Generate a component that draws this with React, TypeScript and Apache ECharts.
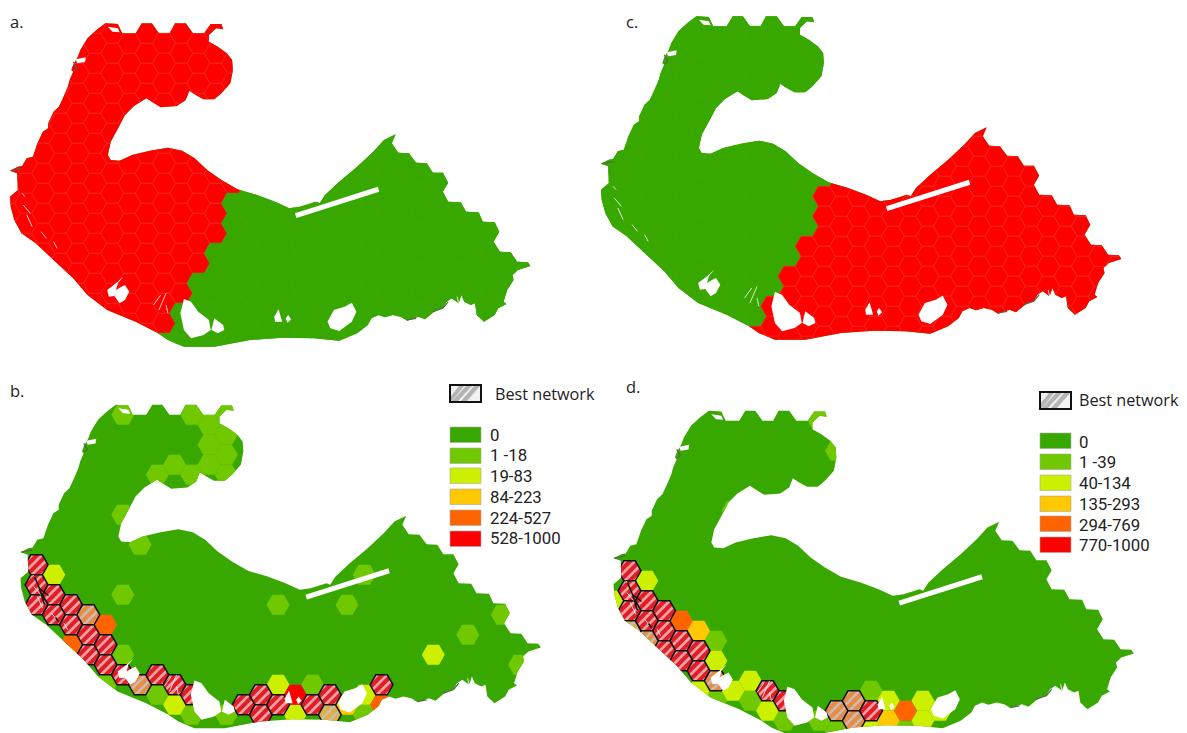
import React, { useEffect, useRef } from "react";
import * as echarts from "echarts";

// Map outline and water bodies (raw reading units, panel a)
const landOutline: number[][] = [
  [295,70],[330,72],[342,100],[380,100],[397,70],[425,70],[445,100],[475,100],[490,70],[520,70],[540,100],[572,100],[590,72],[620,72],[625,88],[605,85],[585,105],[585,125],[610,140],[635,160],[650,180],[652,210],[645,250],[620,280],[600,298],[570,298],[548,285],[530,272],[520,300],[495,318],[450,322],[425,305],[410,295],[375,318],[350,345],[328,390],[310,425],[302,465],[310,480],[335,482],[370,465],[420,452],[470,443],[510,452],[545,475],[580,510],[620,540],[665,568],[720,585],[770,605],[810,625],[840,620],[885,605],[895,610],[910,585],[950,545],[1000,500],[1045,455],[1075,420],[1108,403],[1097,430],[1115,458],[1145,460],[1165,488],[1195,490],[1212,518],[1240,518],[1255,548],[1240,575],[1255,605],[1290,607],[1305,635],[1340,637],[1352,665],[1385,667],[1398,695],[1382,725],[1400,755],[1430,757],[1448,785],[1478,787],[1485,798],[1450,810],[1435,825],[1438,840],[1420,870],[1410,905],[1418,912],[1395,925],[1385,945],[1355,965],[1335,945],[1330,910],[1318,915],[1300,905],[1292,885],[1284,910],[1265,895],[1250,905],[1240,925],[1222,930],[1210,940],[1190,958],[1172,950],[1140,962],[1122,950],[1100,945],[1078,952],[1060,945],[1040,955],[1030,975],[1000,1000],[950,1022],[880,1015],[790,1013],[700,1020],[600,1040],[515,1040],[470,1020],[440,998],[380,965],[300,930],[245,885],[205,835],[150,780],[100,730],[60,700],[40,660],[30,620],[28,590],[50,570],[48,520],[28,512],[50,500],[62,498],[75,475],[92,470],[105,430],[120,395],[135,385],[135,370],[150,335],[165,320],[178,290],[190,260],[195,240],[205,215],[200,210],[205,195],[218,170],[225,150],[245,115],[270,90],
];
const waterBodies: number[][][] = [
  [[515,897],[535,905],[555,935],[585,960],[590,990],[570,1005],[535,1015],[515,990],[505,940]],
  [[600,955],[625,975],[628,990],[610,1000],[592,990]],
  [[780,928],[790,965],[770,965],[768,950]],
  [[807,945],[815,958],[805,968],[800,955]],
  [[985,908],[998,935],[985,965],[950,993],[925,985],[917,965],[935,930],[965,920]],
  [[345,830],[325,850],[300,870],[305,890],[320,888],[335,910],[350,900],[362,875],[350,855],[340,860],[325,870],[330,850]],
  [[826,640],[1058,560],[1062,575],[830,654]],
  [[302,80],[330,85],[335,97],[315,95]],
  [[212,178],[240,172],[238,186],[216,190]],
];
const whiteSlivers: number[][][] = [
  [[62,580],[70,590]],[[65,615],[85,640]],[[75,645],[90,680]],[[115,695],[130,715]],[[150,725],[160,745]],
  [[430,915],[450,885]],[[445,930],[465,880]],[[470,940],[465,915]],
  [[1250,925],[1225,935]],[[1280,890],[1285,915]],
];
const darkSpeckles: number[][][] = [
  [[205,185],[215,205],[205,212]],[[1212,935],[1240,925],[1255,905]],[[1140,960],[1165,955]],
  [[30,512],[60,505]],
];
const scribblesBD: number[][][] = [
  [[24,195],[29,207],[34,223]],[[29,207],[38,214]],[[45,236],[48,240]],
];

// Hexagon grid
const gridColumns = [-9,-8,-7,-6,-5,-4,-3,-2,-1,0,1,2,3,4,5,6,7,8,9,10,11,12,13,14,15,16,17,18,19,20,21,22];
const gridRows = [-1,0,1,2,3,4,5,6,7,8,9,10,11,12,13,14,15,16,17,18,19,20,21,22,23,24,25,26,27,28,29,30,31,32,33];
// Last row of the western block, per column from -9
const westLastRow = [99,99,99,99,99,99,99,99,99,99,29,26,23,20,15];

const classColors = ["#38a800", "#70c800", "#cdf000", "#ffc800", "#ff6400", "#ff0000"];

// [column, row, class, best network]
const cellsB: number[][] = [
  [-2,0,1,0],[2,0,1,0],[4,0,1,0],[3,1,1,0],[4,2,1,0],[3,3,1,0],[4,4,1,0],[3,5,1,0],[4,6,1,0],[1,5,1,0],[0,6,1,0],[2,6,1,0],
  [-2,10,1,0],[-1,13,1,0],[-2,18,1,0],[7,19,1,0],[-2,24,1,0],[-3,27,1,0],[0,28,1,0],[2,30,1,0],[4,30,1,0],
  [12,16,1,0],[11,19,1,0],[20,20,1,0],[18,22,1,0],[21,25,1,0],[9,27,1,0],[12,30,1,0],
  [-6,16,2,0],[1,29,2,0],[7,27,2,0],[8,30,2,0],[16,24,2,0],[12,28,2,0],
  [11,29,3,0],[-3,21,4,0],[-5,23,4,0],[13,29,4,0],[8,28,5,0],
  [-7,15,5,1],[-7,17,5,1],[-6,18,5,1],[-7,19,5,1],[-5,19,5,1],[-6,20,5,1],[-4,20,4,1],[-5,21,5,1],[-4,22,5,1],[-3,23,5,1],
  [-4,24,5,1],[-3,25,5,1],[-2,26,5,1],[-1,27,4,1],[0,26,5,1],[1,27,5,1],[2,28,5,1],[5,29,5,1],[6,28,5,1],[6,30,5,1],[7,29,5,1],
  [13,27,5,1],[9,29,5,1],[10,28,5,1],[10,30,3,1],
];
const cellsD: number[][] = [
  [4,0,1,0],[5,3,1,0],[-1,9,1,0],[-2,22,1,0],[-8,20,1,0],[-2,28,1,0],[0,28,1,0],[2,30,1,0],[7,27,1,0],[4,30,1,0],[5,31,1,0],[9,31,1,0],
  [-6,16,2,0],[-2,24,2,0],[-8,18,2,0],[-1,27,2,0],[0,26,2,0],[-3,27,2,0],[1,29,2,0],[8,28,2,0],[7,31,2,0],[10,28,2,0],[10,30,2,0],[11,29,2,0],
  [-3,21,3,0],[8,30,3,0],[-4,20,4,0],[9,29,4,0],
  [-7,15,5,1],[-7,17,5,1],[-6,18,5,1],[-7,19,5,1],[-5,19,5,1],[-6,20,5,1],[-5,21,5,1],[-4,22,5,1],[-3,23,5,1],[-5,23,5,1],[-4,24,5,1],[-3,25,5,1],
  [-6,22,4,1],[-7,21,3,1],[-2,26,4,1],[1,27,5,1],[2,28,5,1],[5,29,4,1],[6,28,4,1],[6,30,4,1],[7,29,5,1],
];

const legendB = ["0", "1 -18", "19-83", "84-223", "224-527", "528-1000"];
const legendD = ["0", "1 -39", "40-134", "135-293", "294-769", "770-1000"];
const legendTitle = "Best network";

const FONT = "'Open Sans', 'Noto Sans', sans-serif";
const LEGEND_FONT = "Roboto, 'Open Sans', sans-serif";
const HEX_R = 11.5;
const HEX_H = 10;
const toMap = (p: number[]) => [p[0] / 2.8, p[1] / 3];
const land = landOutline.map(toMap);

const cellCenter = (c: number, r: number) => [146.8 + 17.25 * c, 33.3 + 10 * r];
const hexPoints = (cx: number, cy: number) => [
  [cx - HEX_R, cy], [cx - HEX_R / 2, cy - HEX_H], [cx + HEX_R / 2, cy - HEX_H],
  [cx + HEX_R, cy], [cx + HEX_R / 2, cy + HEX_H], [cx - HEX_R / 2, cy + HEX_H],
];
function inLand(p: number[]) {
  let inside = false;
  for (let i = 0, j = land.length - 1; i < land.length; j = i++) {
    const a = land[i], b = land[j];
    if ((a[1] > p[1]) !== (b[1] > p[1]) && p[0] < ((b[0] - a[0]) * (p[1] - a[1])) / (b[1] - a[1]) + a[0]) inside = !inside;
  }
  return inside;
}
const touchesLand = (c: number, r: number) => {
  const [x, y] = cellCenter(c, r);
  return [[x, y], ...hexPoints(x, y)].some(inLand) || land.some((p) => Math.abs(p[0] - x) < HEX_R && Math.abs(p[1] - y) < HEX_H);
};

function gridCells(westClass: number, eastClass: number) {
  const out: number[][] = [];
  gridColumns.forEach((c, ci) => {
    gridRows.forEach((r) => {
      if ((Math.abs(c) + Math.abs(r)) % 2 !== 0 || !touchesLand(c, r)) return;
      const west = ci < westLastRow.length && r <= westLastRow[ci];
      out.push([c, r, west ? westClass : eastClass, 0]);
    });
  });
  return out;
}

function panelSeries(dx: number, dy: number, cells: number[][], outlined: boolean, scribbles: number[][][]) {
  const pt = (api: any, p: number[]) => api.coord([p[0] + dx, p[1] + dy]);
  const polyPts = (api: any, pts: number[][]) => pts.map((p) => pt(api, p));
  const base = { type: "custom", coordinateSystem: "cartesian2d", silent: true, clip: false, animation: false };
  const useCells = cells.filter((c) => touchesLand(c[0], c[1]));
  return [
    {
      ...base,
      data: [[0, 0]],
      renderItem: (_: any, api: any) => ({
        type: "polygon",
        shape: { points: polyPts(api, land) },
        style: { fill: classColors[0] },
      }),
    },
    {
      ...base,
      data: useCells,
      renderItem: (_: any, api: any) => {
        const c = api.value(0), r = api.value(1), cls = api.value(2), best = api.value(3);
        const [cx, cy] = cellCenter(c, r);
        const hp = hexPoints(cx, cy);
        const pts = polyPts(api, hp);
        const fill = best ? (cls === 5 ? "#e21c28" : cls === 4 ? "#e98a45" : "#e0b040") : classColors[cls];
        const stroke = outlined ? (cls === 5 ? "#f52a1f" : "#3bab06") : classColors[cls];
        const children: any[] = [
          { type: "polygon", shape: { points: pts }, style: { fill, stroke, lineWidth: outlined ? 0.8 : 0 } },
        ];
        if (best) {
          const stripeColor = cls === 5 ? "#eaa5a3" : "#c9bbb0";
          const stripes = [-14, -4.3, 5.4, 15].map((k) => ({
            type: "line",
            shape: (() => {
              const a = pt(api, [cx - 16 + k, cy + 16]);
              const b = pt(api, [cx + 16 + k, cy - 16]);
              return { x1: a[0], y1: a[1], x2: b[0], y2: b[1] };
            })(),
            style: { stroke: stripeColor, lineWidth: 2.7 },
          }));
          children.push({ type: "group", clipPath: { type: "polygon", shape: { points: pts } }, children: stripes });
          children.push({ type: "polygon", shape: { points: pts }, style: { fill: "none", stroke: "#111", lineWidth: 1.5 } });
        }
        const group: any = { type: "group", children };
        if (!hp.every(inLand)) group.clipPath = { type: "polygon", shape: { points: polyPts(api, land) } };
        return group;
      },
    },
    {
      ...base,
      data: darkSpeckles.map((_, i) => [i, 0]),
      renderItem: (_: any, api: any) => ({
        type: "polyline",
        shape: { points: polyPts(api, darkSpeckles[api.value(0)].map(toMap)) },
        style: { stroke: "#55634a", lineWidth: 1.2, fill: "none" },
      }),
    },
    {
      ...base,
      data: whiteSlivers.map((_, i) => [i, 0]),
      renderItem: (_: any, api: any) => ({
        type: "polyline",
        shape: { points: polyPts(api, whiteSlivers[api.value(0)].map(toMap)) },
        style: { stroke: "#ffffff", lineWidth: 0.8, fill: "none" },
      }),
    },
    {
      ...base,
      data: waterBodies.map((_, i) => [i, 0]),
      renderItem: (_: any, api: any) => ({
        type: "polygon",
        shape: { points: polyPts(api, waterBodies[api.value(0)].map(toMap)) },
        style: { fill: "#ffffff" },
      }),
    },
    {
      ...base,
      data: scribbles.map((_, i) => [i, 0]),
      renderItem: (_: any, api: any) => ({
        type: "polyline",
        shape: { points: polyPts(api, scribbles[api.value(0)]) },
        style: { stroke: "#111", lineWidth: 1.5, fill: "none" },
      }),
    },
  ];
}

function legendGraphics(x: number, hatchY: number, textX: number, labels: string[], rowsY: number[], textY: number[], titleX: number, titleY: number) {
  const items: any[] = [];
  const W = 31, H = 17;
  items.push({ type: "rect", shape: { x, y: hatchY, width: W, height: H }, style: { fill: "#f2f2f2" } });
  [[[2, 16], [8, 16], [22, 1], [16, 1]], [[11, 16], [17, 16], [30, 1], [24, 1]], [[1, 11], [1, 16], [2, 16], [14, 1], [9, 1]]].forEach((band) => {
    items.push({ type: "polygon", shape: { points: band.map((p) => [x + p[0], hatchY + p[1]]) }, style: { fill: "#b5b5b5" } });
  });
  items.push({ type: "rect", shape: { x, y: hatchY, width: W, height: H }, style: { fill: "none", stroke: "#111", lineWidth: 2 } });
  items.push({ type: "text", x: titleX, y: titleY, style: { text: legendTitle, fill: "#222", font: `16.2px ${FONT}`, textVerticalAlign: "middle", textBaseline: "middle" } });
  labels.forEach((label, i) => {
    items.push({ type: "rect", shape: { x, y: rowsY[i], width: W, height: 15.5 }, style: { fill: classColors[i], stroke: "#a8a8a0", lineWidth: 0.6 } });
    items.push({ type: "text", x: textX, y: textY[i], style: { text: label, fill: "#222", font: `16.8px ${LEGEND_FONT}`, textVerticalAlign: "middle", textBaseline: "middle" } });
  });
  return items;
}

const panelTitle = (text: string, x: number, y: number) => ({
  type: "text", x, y, style: { text, fill: "#222", font: `16.5px ${FONT}`, textVerticalAlign: "middle", textBaseline: "middle" },
});

export default function App() {
  const ref = useRef<HTMLDivElement>(null);
  useEffect(() => {
    document.body.style.margin = "0";
    const chart = echarts.init(ref.current!, undefined, { renderer: "svg" });
    chart.setOption({
      animation: false,
      backgroundColor: "#ffffff",
      grid: { left: 0, right: 0, top: 0, bottom: 0 },
      xAxis: { type: "value", min: 0, max: 1187, show: false },
      yAxis: { type: "value", min: 0, max: 733, inverse: true, show: false },
      series: [
        ...panelSeries(0, 0, gridCells(5, 0), true, []),
        ...panelSeries(591, -7, gridCells(0, 5), true, []),
        ...panelSeries(10.5, 381.5, cellsB, false, scribblesBD),
        ...panelSeries(603.5, 387.5, cellsD, false, scribblesBD),
      ],
      graphic: [
        panelTitle("a.", 10, 21),
        panelTitle("b.", 10, 390),
        panelTitle("c.", 626, 21),
        panelTitle("d.", 626, 386),
        ...legendGraphics(450, 385, 490, legendB, [427, 448, 468, 489, 510, 531], [435, 455, 476, 497, 518, 538], 495, 394),
        ...legendGraphics(1040, 392, 1079, legendD, [433, 454, 475, 496, 516, 537], [442, 462, 483, 504, 525, 545], 1079, 400),
      ],
    });
    return () => chart.dispose();
  }, []);
  return <div ref={ref} style={{ position: "fixed", left: 0, top: 0, width: 1187, height: 733 }} />;
}
